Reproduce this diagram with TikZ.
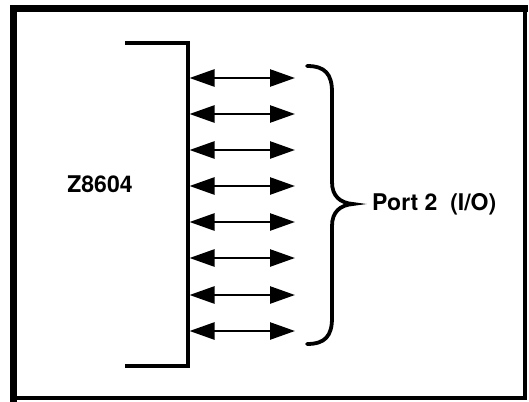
\documentclass[tikz,border=0pt]{standalone}
\usepackage{fontspec}
\setmainfont{TeX Gyre Heros}
\usetikzlibrary{arrows.meta}

\tikzset{
    frameline/.style={line width=7pt, line cap=rect},
    chipside/.style={line width=3.5pt},
    pinarrow/.style={line width=2.5pt, {Triangle[length=25pt,width=17pt]}-{Triangle[length=25pt,width=17pt]}},
    portbrace/.style={line width=3.8pt, line cap=round},
    lab/.style={font=\bfseries\fontsize{23}{26}\selectfont, inner sep=0pt}
}

\begin{document}
\begin{tikzpicture}[x=1pt, y=-1pt]
    \useasboundingbox (0,0) rectangle (529,401);
    % outer frame
    \draw[frameline] (13,398) -- (13,9) -- (524,9);
    \draw[line width=4.5pt] (13,398) -- (525,398) -- (525,9);
    % chip edge
    \coordinate (chiptop) at (125,43);
    \coordinate (chipbot) at (125,366);
    \draw[chipside] (chiptop) -- (188,43) -- (188,366) -- (chipbot);
    \node[lab] (chip) at (100,184) {Z8604};
    % port lines
    \foreach \i/\y in {1/78, 2/114, 3/150, 4/186, 5/222, 6/258, 7/295, 8/331} {
        \coordinate (pin\i) at (189.5,\y);
        \coordinate (end\i) at (295,\y);
        \draw[pinarrow] (pin\i) -- (end\i);
    }
    % brace
    \draw[portbrace] (307,66) .. controls (325,66) and (332,74) .. (332,92) -- (332,182)
        .. controls (332,196) and (340,203) .. (353,204)
        .. controls (340,205) and (332,212) .. (332,226) -- (332,318)
        .. controls (332,336) and (325,344) .. (307,344);
    \coordinate (bracetip) at (353,204);
    \node[lab, anchor=west] (port) at (372,204) {Port 2\ \ (I/O)};
\end{tikzpicture}
\end{document}
